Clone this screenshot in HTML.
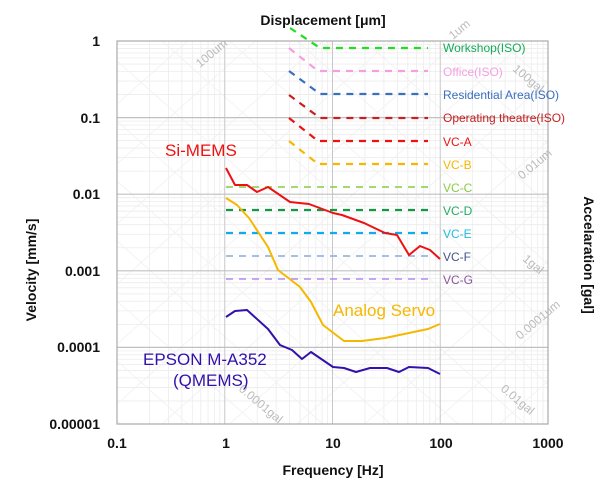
<!DOCTYPE html>
<html><head><meta charset="utf-8"><style>
html,body{margin:0;padding:0;background:#fff;width:607px;height:500px;overflow:hidden;}
svg{display:block;font-family:"Liberation Sans",sans-serif;}
</style></head><body>
<svg id="s" width="607" height="500" viewBox="0 0 607 500" xmlns="http://www.w3.org/2000/svg">
<defs><clipPath id="c"><rect x="117" y="41" width="431" height="383"/></clipPath></defs>
<g id="grid" clip-path="url(#c)"></g>
<rect x="117" y="41" width="431" height="383" fill="none" stroke="#aaa" stroke-width="1.2"/>
<g font-weight="bold" font-size="14" fill="#111" text-anchor="end">
<text x="100" y="46">1</text><text x="100" y="123">0.1</text><text x="100" y="199">0.01</text>
<text x="100" y="276">0.001</text><text x="100" y="352">0.0001</text><text x="100" y="429">0.00001</text>
</g>
<g font-weight="bold" font-size="14" fill="#111" text-anchor="middle">
<text x="117" y="448">0.1</text><text x="226" y="448">1</text><text x="333" y="448">10</text>
<text x="441" y="448">100</text><text x="548" y="448">1000</text>
<text x="333" y="475">Frequency [Hz]</text>
<text x="323" y="25">Displacement [μm]</text>
<text transform="translate(36,270) rotate(-90)">Velocity [mm/s]</text>
<text transform="translate(584,255) rotate(90)">Accelaration [gal]</text>
</g>
<g font-size="12" fill="#bbb">
<text transform="translate(200,68) rotate(-40)">100um</text>
<text transform="translate(453,40) rotate(-40)">1um</text>
<text transform="translate(512,70) rotate(40)">100gal</text>
<text transform="translate(522,180) rotate(-40)">0.01um</text>
<text transform="translate(522,260) rotate(40)">1gal</text>
<text transform="translate(520,340) rotate(-40)">0.0001um</text>
<text transform="translate(238,390) rotate(40)">0.0001gal</text>
<text transform="translate(500,390) rotate(40)">0.01gal</text>
</g>
<g fill="none" stroke-width="2.2" stroke-dasharray="7,6">
<polyline stroke="#22dd22" points="290,28 320,48 428,48"/>
<polyline stroke="#f4a0e0" points="289,48 318,71 428,71"/>
<polyline stroke="#3a6fc0" points="289,71 320,94 428,94"/>
<polyline stroke="#c82020" points="289,95 320,118 428,118"/>
<polyline stroke="#ee1111" points="289,118 318,141 326,141 428,141"/>
<polyline stroke="#f5b800" points="289,141 318,164 326,164 428,164"/>
<polyline stroke="#88cc44" stroke-width="1.4" points="226,187 428,187"/>
<polyline stroke="#119944" points="226,210 428,210"/>
<polyline stroke="#11aaee" points="226,233 428,233"/>
<polyline stroke="#88aadd" stroke-width="1.4" points="226,256 428,256"/>
<polyline stroke="#bb88ee" stroke-width="1.6" points="226,279 428,279"/>
</g>
<g font-size="12">
<text x="443" y="52" fill="#11aa55">Workshop(ISO)</text>
<text x="443" y="76" fill="#f4a0e0">Office(ISO)</text>
<text x="443" y="99" fill="#3a6fc0">Residential Area(ISO)</text>
<text x="443" y="122" fill="#c82020">Operating theatre(ISO)</text>
<text x="443" y="146" fill="#ee1111">VC-A</text>
<text x="443" y="169" fill="#f5b800">VC-B</text>
<text x="443" y="192" fill="#88cc44">VC-C</text>
<text x="443" y="215" fill="#22aa66">VC-D</text>
<text x="443" y="238" fill="#22bbdd">VC-E</text>
<text x="443" y="261" fill="#445588">VC-F</text>
<text x="443" y="284" fill="#885599">VC-G</text>
</g>
<g fill="none" stroke-width="2" stroke-linejoin="round">
<polyline stroke="#ee1111" points="226,168 235,185 247,185 257,192 268,187 290,202 309,204 333,213 342,215 364,223 385,233 397,235 409,255 420,246 430,250 440,259"/>
<polyline stroke="#f5b800" points="226,198 237,205 249,218 268,247 278,270 300,287 311,302 323,325 344,341 362,341 385,338 409,333 428,329 440,324"/>
<polyline stroke="#3311aa" points="226,317 235,311 247,310 268,329 280,345 292,350 302,359 311,352 333,367 344,368 356,372 370,368 387,368 399,372 409,367 428,368 440,374"/>
</g>
<g font-size="17">
<text x="165" y="156" fill="#ee1111">Si-MEMS</text>
<text x="333" y="316" fill="#f5b800">Analog Servo</text>
<text x="143" y="365" fill="#3311aa">EPSON M-A352</text>
<text x="173" y="386" fill="#3311aa">(QMEMS)</text>
</g>
</svg>
<script>
var g=document.getElementById('grid'),h='';
function X(f){return 117+107.75*Math.log10(f/0.1);}
function Y(v){return 41-76.6*Math.log10(v);}
for(var d=-1;d<3;d++)for(var k=2;k<10;k++){var x=X(k*Math.pow(10,d));h+='<line x1="'+x+'" y1="41" x2="'+x+'" y2="424" stroke="#ececec" stroke-width="0.8"/>';}
for(var d=-5;d<0;d++)for(var k=2;k<10;k++){var y=Y(k*Math.pow(10,d));h+='<line x1="117" y1="'+y+'" x2="548" y2="'+y+'" stroke="#ececec" stroke-width="0.8"/>';}
for(var i=0;i<14;i++){var o=-400+i*60;h+='<line x1="117" y1="'+(41+o)+'" x2="548" y2="'+(41+o+383)+'" stroke="#f0f0f0" stroke-width="0.8"/>';h+='<line x1="117" y1="'+(424-o)+'" x2="548" y2="'+(41-o)+'" stroke="#f0f0f0" stroke-width="0.8"/>';}
[1,10,100].forEach(function(f){var x=X(f);h+='<line x1="'+x+'" y1="41" x2="'+x+'" y2="424" stroke="#c8c8c8" stroke-width="1"/>';});
[0.1,0.01,0.001,0.0001].forEach(function(v){var y=Y(v);h+='<line x1="117" y1="'+y+'" x2="548" y2="'+y+'" stroke="#c0c0c0" stroke-width="1.2"/>';});
g.innerHTML=h;
</script>
</body></html>
